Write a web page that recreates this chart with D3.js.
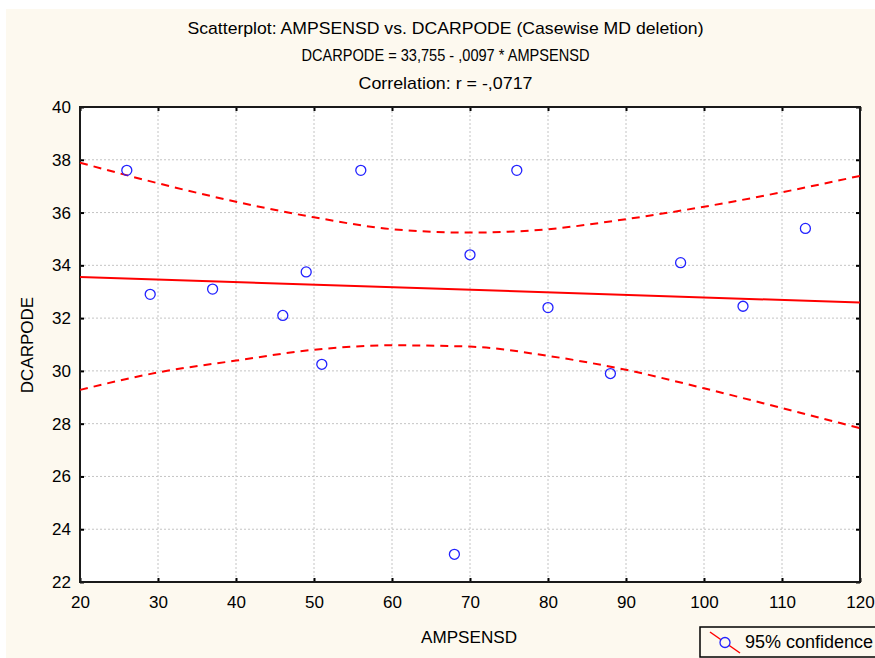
<!DOCTYPE html>
<html>
<head>
<meta charset="utf-8">
<script src="https://cdn.jsdelivr.net/npm/d3@7"></script>
<style>
  html, body { margin: 0; padding: 0; background: #ffffff; }
  svg { display: block; }
</style>
</head>
<body>
<div id="chart"></div>
<script>
// Scatter points (AMPSENSD, DCARPODE)
const ampsensd = [26, 29, 37, 46, 49, 51, 56, 68, 70, 76, 80, 88, 97, 105, 113];
const dcarpode = [37.6, 32.9, 33.1, 32.1, 33.75, 30.25, 37.6, 23.05, 34.4, 37.6, 32.4, 29.9, 34.1, 32.45, 35.4];

// Fitted line, read at the ends of the plot
const fitX = [20, 120];
const fitY = [33.56, 32.59];

// 95% confidence band, read every 10 units
const bandX = [20, 30, 40, 50, 60, 70, 80, 90, 100, 110, 120];
const bandUpper = [37.89, 37.11, 36.41, 35.82, 35.37, 35.24, 35.37, 35.75, 36.22, 36.77, 37.39];
const bandLower = [29.28, 29.94, 30.39, 30.80, 30.97, 30.92, 30.57, 30.04, 29.34, 28.59, 27.83];

const xTicks = [20, 30, 40, 50, 60, 70, 80, 90, 100, 110, 120];
const yTicks = [22, 24, 26, 28, 30, 32, 34, 36, 38, 40];

const titleLines = [
    "Scatterplot: AMPSENSD vs. DCARPODE (Casewise MD deletion)",
    "DCARPODE = 33,755 - ,0097  * AMPSENSD",
    "Correlation: r = -,0717"
];
const xTitle = "AMPSENSD";
const yTitle = "DCARPODE";
const legendLabel = "95% confidence";

const W = 875, H = 658;
const plot = { left: 80, right: 860, top: 107, bottom: 582 };

const svg = d3.select("#chart").append("svg")
    .attr("width", W)
    .attr("height", H);

// background
svg.append("rect")
    .attr("x", 6).attr("y", 9)
    .attr("width", W - 6).attr("height", H - 9)
    .attr("fill", "#fdf9ef");

svg.append("rect")
    .attr("x", plot.left).attr("y", plot.top)
    .attr("width", plot.right - plot.left).attr("height", plot.bottom - plot.top)
    .attr("fill", "#ffffff");

const x = d3.scaleLinear().domain([20, 120]).range([plot.left, plot.right]);
const y = d3.scaleLinear().domain([22, 40]).range([plot.bottom, plot.top]);

// titles (condensed like the original)
const titleY = [34, 61, 89];
const titleW = [516, 288, 174];
svg.selectAll(".title")
    .data(titleLines)
    .enter()
    .append("text")
    .attr("class", "title")
    .attr("x", W / 2 + 8)
    .attr("y", (d, i) => titleY[i])
    .attr("text-anchor", "middle")
    .attr("textLength", (d, i) => titleW[i])
    .attr("lengthAdjust", "spacingAndGlyphs")
    .style("font-family", "'Liberation Sans Narrow', 'Liberation Sans', Arial, sans-serif")
    .style("font-size", "17px")
    .style("fill", "#000")
    .text(d => d);

// grid (dotted)
svg.append("g")
    .selectAll("line")
    .data(xTicks.slice(1, -1))
    .enter()
    .append("line")
    .attr("x1", d => x(d)).attr("x2", d => x(d))
    .attr("y1", plot.top).attr("y2", plot.bottom)
    .attr("stroke", "#c4c4c4")
    .attr("stroke-width", 1)
    .attr("stroke-dasharray", "2,2");

svg.append("g")
    .selectAll("line")
    .data(yTicks.slice(1, -1))
    .enter()
    .append("line")
    .attr("x1", plot.left).attr("x2", plot.right)
    .attr("y1", d => y(d)).attr("y2", d => y(d))
    .attr("stroke", "#c4c4c4")
    .attr("stroke-width", 1)
    .attr("stroke-dasharray", "2,2");

// axes, ticks point inward
const tickFont = g => g.selectAll("text")
    .style("font-family", "'Liberation Sans', Arial, sans-serif")
    .style("font-size", "17px")
    .style("fill", "#000");

svg.append("g")
    .attr("transform", `translate(0,${plot.bottom})`)
    .call(d3.axisBottom(x).tickValues(xTicks).tickSize(-4).tickPadding(14).tickFormat(d3.format("d")))
    .call(g => g.select(".domain").remove())
    .call(tickFont);

svg.append("g")
    .attr("transform", `translate(${plot.left},0)`)
    .call(d3.axisLeft(y).tickValues(yTicks).tickSize(-4).tickPadding(9).tickFormat(d3.format("d")))
    .call(g => g.select(".domain").remove())
    .call(tickFont);

svg.append("g")
    .attr("transform", `translate(0,${plot.top})`)
    .call(d3.axisTop(x).tickValues(xTicks).tickSize(-4).tickFormat(""))
    .call(g => g.select(".domain").remove());

svg.append("g")
    .attr("transform", `translate(${plot.right},0)`)
    .call(d3.axisRight(y).tickValues(yTicks).tickSize(-4).tickFormat(""))
    .call(g => g.select(".domain").remove());

svg.selectAll(".tick line")
    .attr("stroke", "#000")
    .attr("stroke-width", 2);

// frame
svg.append("rect")
    .attr("x", plot.left).attr("y", plot.top)
    .attr("width", plot.right - plot.left).attr("height", plot.bottom - plot.top)
    .attr("fill", "none")
    .attr("stroke", "#1a1a1a")
    .attr("stroke-width", 2);

// axis titles
svg.append("text")
    .attr("x", 469)
    .attr("y", 643)
    .attr("text-anchor", "middle")
    .attr("textLength", 96)
    .attr("lengthAdjust", "spacingAndGlyphs")
    .style("font-family", "'Liberation Sans Narrow', 'Liberation Sans', Arial, sans-serif")
    .style("font-size", "17px")
    .text(xTitle);

svg.append("text")
    .attr("transform", "translate(33,345) rotate(-90)")
    .attr("text-anchor", "middle")
    .style("font-family", "'Liberation Sans', Arial, sans-serif")
    .style("font-size", "17px")
    .text(yTitle);

// lines
const bandUp = bandX.map((d, i) => ({ x: d, y: bandUpper[i] }));
const bandLo = bandX.map((d, i) => ({ x: d, y: bandLower[i] }));
const fit = fitX.map((d, i) => ({ x: d, y: fitY[i] }));

const line = d3.line()
    .x(d => x(d.x))
    .y(d => y(d.y))
    .curve(d3.curveMonotoneX);

[bandUp, bandLo].forEach(b => {
    svg.append("path")
        .datum(b)
        .attr("fill", "none")
        .attr("stroke", "#ff0000")
        .attr("stroke-width", 2)
        .attr("stroke-dasharray", "8,6")
        .attr("d", line);
});

svg.append("path")
    .datum(fit)
    .attr("fill", "none")
    .attr("stroke", "#ff0000")
    .attr("stroke-width", 2)
    .attr("d", line);

// points
svg.append("g")
    .selectAll("circle")
    .data(ampsensd)
    .enter()
    .append("circle")
    .attr("cx", d => x(d))
    .attr("cy", (d, i) => y(dcarpode[i]))
    .attr("r", 5)
    .attr("fill", "none")
    .attr("stroke", "#2222ff")
    .attr("stroke-width", 1.3);

// legend (runs off the right edge as in the original)
const lg = svg.append("g").attr("transform", "translate(700,627)");
lg.append("rect")
    .attr("width", 200).attr("height", 30)
    .attr("fill", "#fdf9ef")
    .attr("stroke", "#000")
    .attr("stroke-width", 1.5);
lg.append("line")
    .attr("x1", 10).attr("y1", 5)
    .attr("x2", 40).attr("y2", 26)
    .attr("stroke", "#ff0000")
    .attr("stroke-width", 1.5);
lg.append("circle")
    .attr("cx", 25).attr("cy", 15.5)
    .attr("r", 5)
    .attr("fill", "#fdf9ef")
    .attr("stroke", "#2222ff")
    .attr("stroke-width", 1.3);
lg.append("text")
    .attr("x", 45).attr("y", 21)
    .style("font-family", "'Liberation Sans', Arial, sans-serif")
    .style("font-size", "18px")
    .text(legendLabel);
</script>
</body>
</html>
